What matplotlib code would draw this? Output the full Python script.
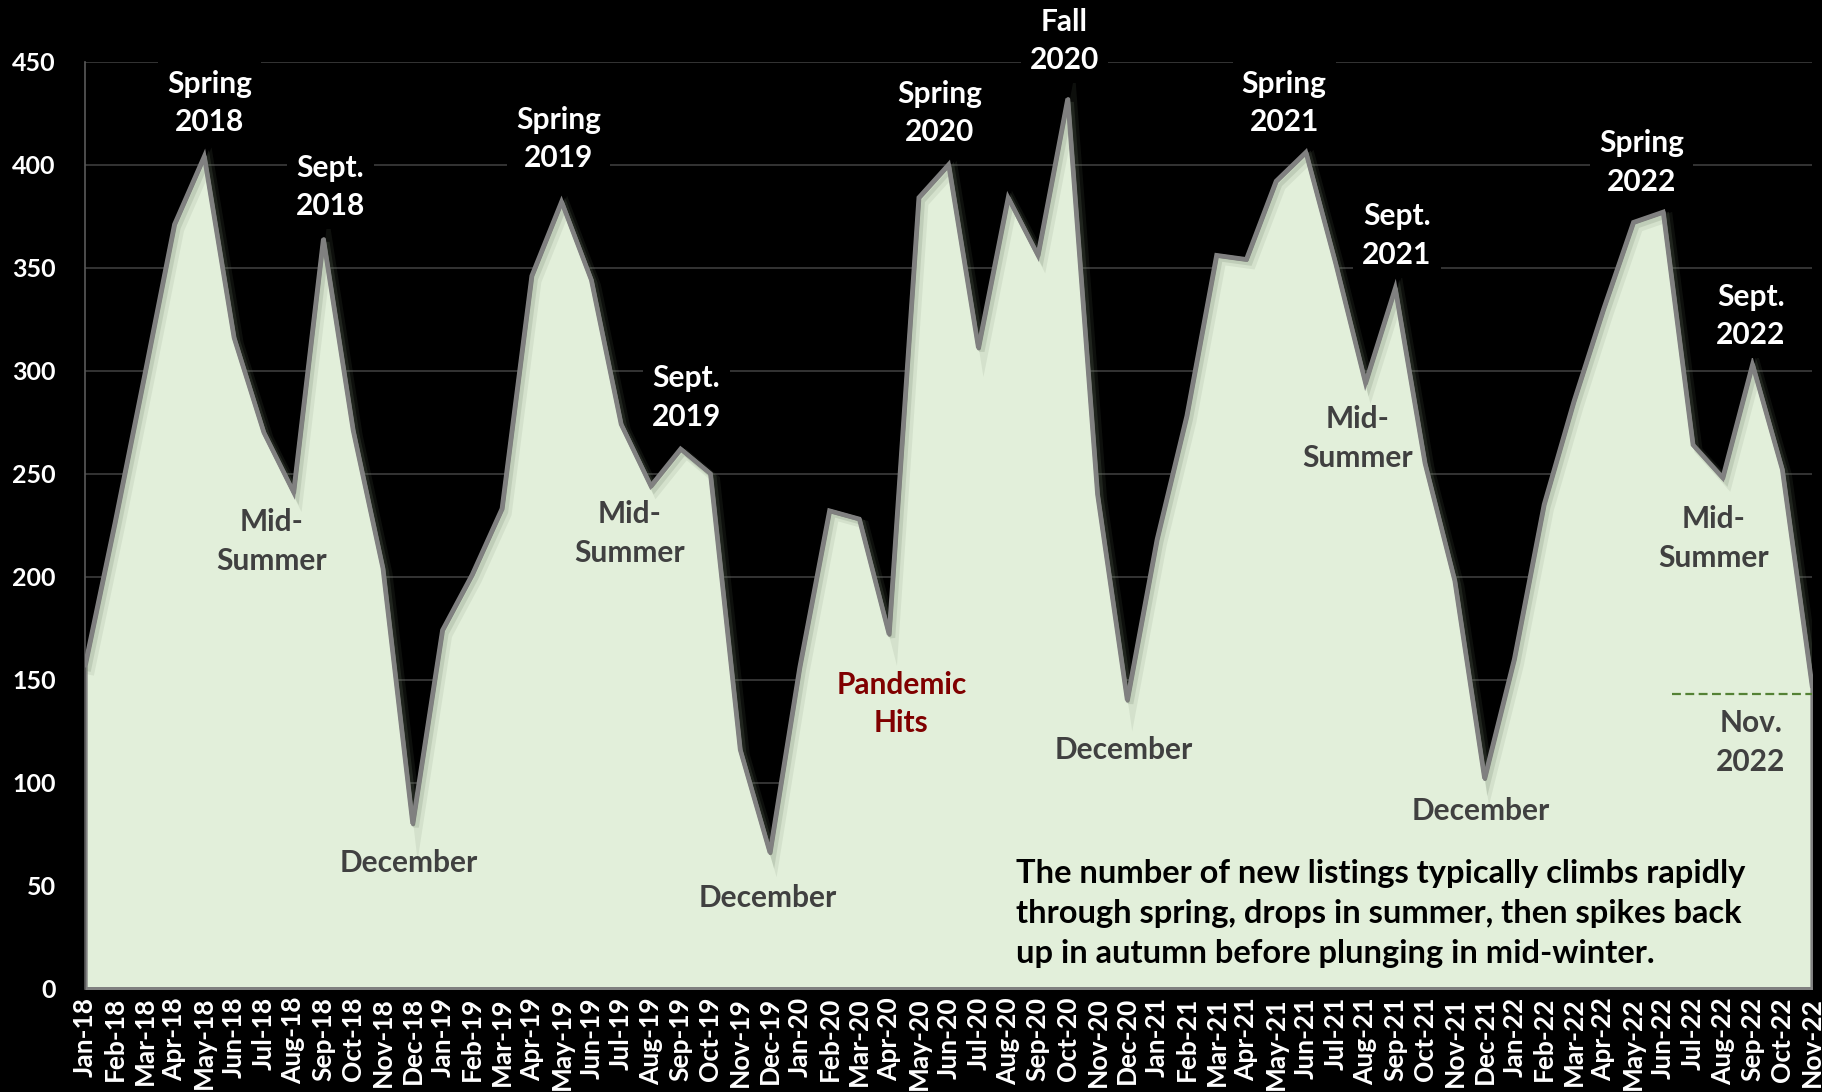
import matplotlib
matplotlib.use("Agg")
from matplotlib import pyplot as plt
import matplotlib.patheffects as pe
import numpy as np

plt.rcParams['font.family'] = ['Lato', 'DejaVu Sans']

months = ['Jan', 'Feb', 'Mar', 'Apr', 'May', 'Jun', 'Jul', 'Aug', 'Sep', 'Oct', 'Nov', 'Dec']
labels = ['%s-%d' % (m, y) for y in range(18, 23) for m in months][:59]

listings_2018 = [157, 226, 298, 371, 404, 316, 270, 241, 364, 271, 204, 80]
listings_2019 = [174, 201, 233, 346, 382, 344, 274, 244, 262, 250, 116, 66]
listings_2020 = [156, 232, 228, 172, 384, 400, 311, 384, 356, 432, 240, 140]
listings_2021 = [218, 278, 356, 354, 392, 406, 352, 294, 340, 255, 198, 102]
listings_2022 = [160, 235, 285, 330, 372, 377, 264, 248, 303, 252, 147]
values = listings_2018 + listings_2019 + listings_2020 + listings_2021 + listings_2022

nov22_level = 143
yticks = [0, 50, 100, 150, 200, 250, 300, 350, 400, 450]

# (text, x, y, style)
notes = [
    ("Spring\n2018", 4.18, 430, 'white'),
    ("Sept.\n2018", 8.24, 389, 'white'),
    ("Mid-\nSummer", 6.25, 217, 'grey'),
    ("December", 10.86, 61, 'grey'),
    ("Spring\n2019", 15.9, 412.5, 'white'),
    ("Mid-\nSummer", 18.28, 221, 'grey'),
    ("Sept.\n2019", 20.2, 287, 'white'),
    ("December", 22.93, 44, 'grey'),
    ("Pandemic\nHits", 27.42, 138, 'red'),
    ("Spring\n2020", 28.71, 425, 'white'),
    ("Fall\n2020", 32.89, 460, 'white'),
    ("December", 34.88, 116, 'grey'),
    ("Spring\n2021", 40.27, 430, 'white'),
    ("Sept.\n2021", 44.06, 365.5, 'white'),
    ("Mid-\nSummer", 42.73, 267, 'grey'),
    ("December", 46.88, 86, 'grey'),
    ("Spring\n2022", 52.27, 401, 'white'),
    ("Sept.\n2022", 55.94, 326.5, 'white'),
    ("Mid-\nSummer", 54.69, 218.5, 'grey'),
    ("Nov.\n2022", 55.94, 119.5, 'grey'),
]
summary = ("The number of new listings typically climbs rapidly\n"
           "through spring, drops in summer, then spikes back\n"
           "up in autumn before plunging in mid-winter.")

fig = plt.figure(figsize=(18.22, 10.92), dpi=100, facecolor='black')
ax = fig.add_axes([0.0467, 0.0947, 0.9478, 0.8489])
ax.set_facecolor('black')

x = np.arange(len(values))
ax.fill_between(x, values, 0, facecolor='#e2efda', edgecolor='#808080', lw=3, zorder=2)
ax.plot(x, values, color='#808080', lw=3.2, zorder=3, solid_joinstyle='miter',
        path_effects=[pe.SimpleLineShadow(offset=(4, -4), shadow_color='#6f7f68', alpha=0.12, linewidth=6),
                      pe.SimpleLineShadow(offset=(2.5, -2.5), shadow_color='#6f7f68', alpha=0.2, linewidth=4),
                      pe.Normal()])

ax.plot([53.3, 58], [nov22_level, nov22_level], color='#548235', lw=1.6, ls=(0, (4, 2)), zorder=4)

ax.set_xlim(0, 58)
ax.set_ylim(0, 450)
ax.set_yticks(yticks)
ax.set_yticklabels([str(v) for v in yticks], fontsize=18, fontweight='bold', color='white')
ax.set_xticks(x)
ax.set_xticklabels(labels, rotation=90, fontsize=19, fontweight='bold', color='white')
ax.tick_params(axis='y', length=0, pad=21)
ax.tick_params(axis='x', length=0, pad=6)
ax.grid(axis='y', color='#3d3d3d', lw=1.2, zorder=1)
ax.set_axisbelow(True)
for s in ['top', 'right', 'bottom']:
    ax.spines[s].set_visible(False)
ax.spines['left'].set_color('#595959')
ax.spines['left'].set_linewidth(1.2)

colors = {'white': 'white', 'grey': '#404040', 'red': '#800000'}
for text, tx, ty, style in notes:
    kw = {}
    if style == 'white':
        kw['bbox'] = dict(boxstyle='square,pad=0.3', facecolor='black', edgecolor='none')
    ax.text(tx, ty, text, ha='center', va='center', fontsize=21.5, fontweight='bold',
            color=colors[style], linespacing=1.45, zorder=6, clip_on=False, **kw)

ax.text(31.25, 36.4, summary, ha='left', va='center', fontsize=23.5, fontweight='bold',
        color='black', linespacing=1.45, zorder=6,
        bbox=dict(boxstyle='square,pad=0.35', facecolor='#e2efda', edgecolor='none'))

fig.savefig('out.png', dpi=100, facecolor='black')
